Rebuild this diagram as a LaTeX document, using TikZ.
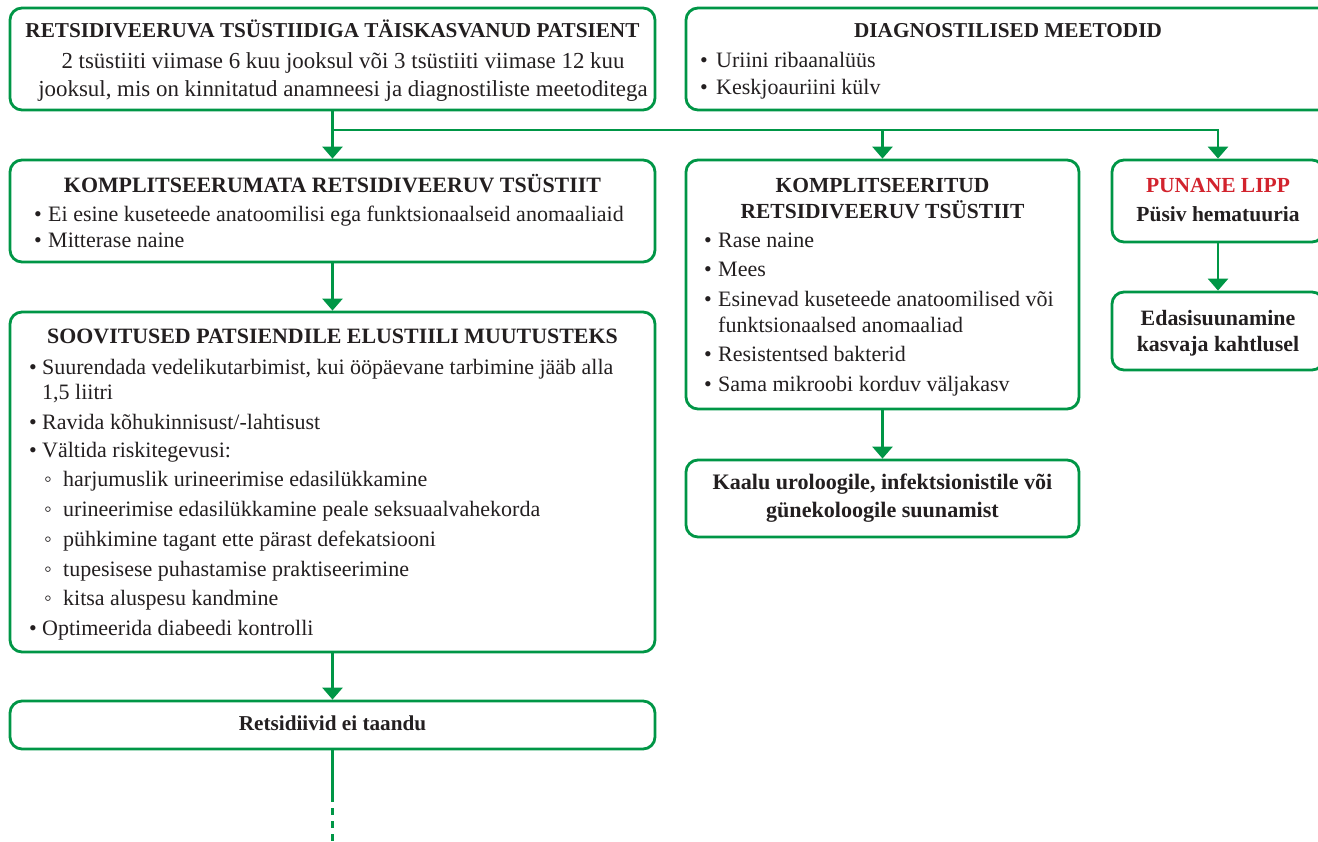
\documentclass[tikz,border=0pt]{standalone}
\usepackage{fontspec}
\setmainfont{Liberation Serif}
\usetikzlibrary{arrows.meta}

\definecolor{flowgreen}{RGB}{0,150,70}
\definecolor{flagred}{RGB}{210,35,45}
\definecolor{inkgray}{RGB}{35,31,32}

\newcommand{\tp}{\rule{0pt}{21pt}}
\newcommand{\bul}[1][14pt]{\makebox[#1][l]{•}}
\newcommand{\circbul}{\hspace*{15pt}\makebox[19pt][l]{◦}}

\begin{document}
\begin{tikzpicture}[x=1pt,y=-1pt,
    box/.style={draw=flowgreen,line width=2.8pt,rounded corners=12pt,inner sep=0pt},
    txt/.style={inner sep=0pt,text=inkgray,font=\fontsize{22}{29.5}\selectfont},
    head/.style={inner sep=0pt,text=inkgray,font=\fontsize{21.5}{26}\selectfont\bfseries},
    link/.style={flowgreen,line width=2.8pt,-{Triangle[width=20pt,length=12pt]}},
    wire/.style={flowgreen,line width=2.8pt}]
  \clip (0,0) rectangle (1318,842);

  % boxes
  \node[box,minimum width=645pt,minimum height=102pt] (TOP)   at (332.5,59)  {};
  \node[box,minimum width=660pt,minimum height=102pt] (DIAG)  at (1016,59)   {};
  \node[box,minimum width=645pt,minimum height=102pt] (UNC)   at (332.5,211) {};
  \node[box,minimum width=645pt,minimum height=340pt] (LIFE)  at (332.5,482) {};
  \node[box,minimum width=645pt,minimum height=48pt]  (NOREM) at (332.5,725) {};
  \node[box,minimum width=393pt,minimum height=249pt] (COMP)  at (882.5,284.5) {};
  \node[box,minimum width=393pt,minimum height=77pt]  (REF)   at (882.5,498.5) {};
  \node[box,minimum width=212pt,minimum height=82pt]  (FLAG)  at (1218,201)  {};
  \node[box,minimum width=212pt,minimum height=78pt]  (ONC)   at (1218,331)  {};

  % texts
  \node[head,font=\fontsize{21.2}{26}\selectfont\bfseries,anchor=base] (TOP-h) at (332.5,38)
    {RETSIDIVEERUVA TSÜSTIIDIGA TÄISKASVANUD PATSIENT};
  \node[txt,font=\fontsize{22.9}{29.5}\selectfont,anchor=north,align=center] (TOP-b) at (343,47)
    {\tp 2 tsüstiiti viimase 6 kuu jooksul või 3 tsüstiiti viimase 12 kuu\\[-1.5pt]
     jooksul, mis on kinnitatud anamneesi ja diagnostiliste meetoditega};

  \node[head,font=\fontsize{21.2}{26}\selectfont\bfseries,anchor=base] (DIAG-h) at (1008,38)
    {DIAGNOSTILISED MEETODID};
  \node[txt,anchor=north west,align=left] (DIAG-b) at (700,46)
    {\tp\bul[16pt]Uriini ribaanalüüs\\[-2.5pt]
     \bul[16pt]Keskjoauriini külv};

  \node[head,font=\fontsize{21.9}{26}\selectfont\bfseries,anchor=base] (UNC-h) at (332.5,192.5)
    {KOMPLITSEERUMATA RETSIDIVEERUV TSÜSTIIT};
  \node[txt,anchor=north west,align=left] (UNC-b) at (34,200)
    {\tp\bul Ei esine kuseteede anatoomilisi ega funktsionaalseid anomaaliaid\\[-3.5pt]
     \bul Mitterase naine};

  \node[head,font=\fontsize{21.9}{26}\selectfont\bfseries,anchor=base] (LIFE-h) at (332.5,344)
    {SOOVITUSED PATSIENDILE ELUSTIILI MUUTUSTEKS};
  \node[txt,anchor=north west,align=left] (LIFE-b) at (29,353)
    {\tp\bul[13pt]Suurendada vedelikutarbimist, kui ööpäevane tarbimine jääb alla\\[-4pt]
     \hspace*{13pt}1,5 liitri\\
     \bul[13pt]Ravida kõhukinnisust/-lahtisust\\[-1.5pt]
     \bul[13pt]Vältida riskitegevusi:\\
     \circbul harjumuslik urineerimise edasilükkamine\\[0.5pt]
     \circbul urineerimise edasilükkamine peale seksuaalvahekorda\\[0.5pt]
     \circbul pühkimine tagant ette pärast defekatsiooni\\[0.5pt]
     \circbul tupesisese puhastamise praktiseerimine\\[-1pt]
     \circbul kitsa aluspesu kandmine\\[0.5pt]
     \bul[13pt]Optimeerida diabeedi kontrolli};

  \node[head,font=\fontsize{21.2}{26}\selectfont\bfseries,anchor=base] (NOREM-h) at (332.5,730)
    {Retsidiivid ei taandu};

  \node[head,anchor=north,align=center] (COMP-h) at (882.5,171)
    {\tp KOMPLITSEERITUD\\ RETSIDIVEERUV TSÜSTIIT};
  \node[txt,anchor=north west,align=left] (COMP-b) at (704,226)
    {\tp\bul Rase naine\\
     \bul Mees\\
     \bul Esinevad kuseteede anatoomilised või\\[-3.5pt]
     \hspace*{14pt}funktsionaalsed anomaaliad\\
     \bul Resistentsed bakterid\\
     \bul Sama mikroobi korduv väljakasv};

  \node[head,font=\fontsize{22.1}{26}\selectfont\bfseries,anchor=north,align=center] (REF-h) at (882.5,468)
    {\tp Kaalu uroloogile, infektsionistile või\\[2pt] günekoloogile suunamist};

  \node[head,anchor=north,align=center] (FLAG-h) at (1218,171)
    {\tp\textcolor{flagred}{PUNANE LIPP}\\[3pt] Püsiv hematuuria};
  \node[head,font=\fontsize{21.9}{26}\selectfont\bfseries,anchor=north,align=center] (ONC-h) at (1218,304)
    {\tp Edasisuunamine\\[0pt] kasvaja kahtlusel};

  % connectors
  \coordinate (SPLIT) at (332.5,130);
  \draw[link] (TOP) -- (UNC);
  \draw[link] (SPLIT) -| (FLAG);
  \draw[link] (SPLIT -| COMP) -- (COMP);
  \draw[link] (UNC) -- (LIFE);
  \draw[link] (LIFE) -- (NOREM);
  \draw[link] (COMP) -- (REF);
  \draw[link] (FLAG) -- (ONC);

  \coordinate (DASH) at (332.5,795);
  \coordinate (END) at (332.5,845);
  \draw[wire] (NOREM) -- (DASH);
  \draw[wire,dash pattern=on 7pt off 6pt] (DASH) -- (END);
\end{tikzpicture}
\end{document}
